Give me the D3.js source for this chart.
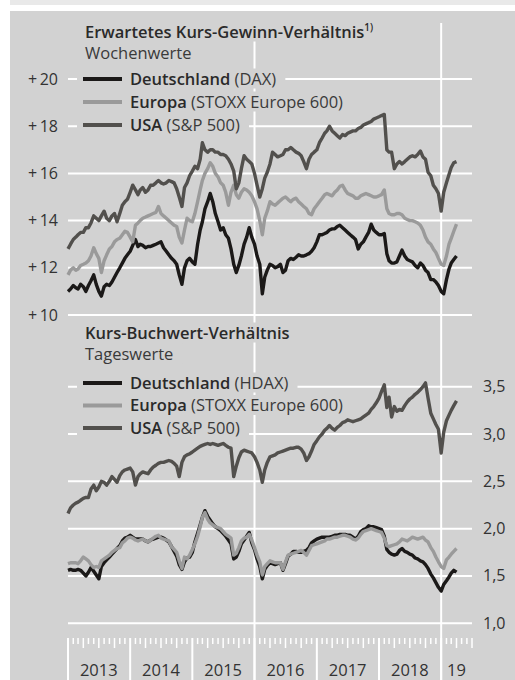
<!DOCTYPE html>
<html>
<head>
<meta charset="utf-8">
<script src="https://cdn.jsdelivr.net/npm/d3@7"></script>
<style>
  body { margin: 0; background: #ffffff; }
  svg { display: block; font-family: "Open Sans", "Noto Sans", sans-serif; }
</style>
</head>
<body>
<script>
"use strict"

/* Data: half-monthly values (1st and 16th of each month), Jan 2013 - Apr 2019 */
const startYear = 2013;
const nPoints = 151;

/* Erwartetes KGV, Wochenwerte */
const kgvDax = [11.0, 11.1, 11.25, 11.15, 11.1, 11.3, 11.2, 11.0, 11.25, 11.45, 11.7, 11.3, 11.0, 10.8, 11.2, 11.3, 11.25, 11.4, 11.6, 11.8,
  12.0, 12.2, 12.4, 12.55, 12.7, 12.95, 13.2, 12.9, 13.0, 12.95, 12.85, 12.9, 12.9, 12.95, 13.0, 13.05, 13.1, 12.85, 12.7, 12.55,
  12.4, 12.3, 12.15, 11.7, 11.3, 12.0, 12.3, 12.4, 12.25, 12.15, 13.0, 13.6, 13.95, 14.5, 14.8, 15.15, 14.8, 14.3, 13.95, 13.6,
  13.7, 13.4, 13.25, 12.8, 12.15, 11.8, 12.1, 12.5, 13.0, 13.3, 13.7, 13.3, 13.0, 12.5, 12.15, 10.9, 11.6, 11.9, 12.15, 12.1,
  12.0, 12.05, 12.15, 11.8, 11.9, 12.3, 12.4, 12.35, 12.45, 12.55, 12.5, 12.5, 12.55, 12.6, 12.7, 12.85, 13.1, 13.4, 13.4, 13.45,
  13.5, 13.6, 13.65, 13.65, 13.75, 13.8, 13.7, 13.6, 13.5, 13.4, 13.3, 13.2, 12.8, 13.0, 13.1, 13.3, 13.5, 13.85, 13.6, 13.5,
  13.4, 13.4, 13.45, 12.6, 12.3, 12.2, 12.2, 12.25, 12.5, 12.75, 12.5, 12.35, 12.3, 12.25, 12.1, 12.0, 12.2, 12.1, 11.9, 11.8,
  11.5, 11.5, 11.4, 11.25, 11.0, 10.9, 11.5, 11.95, 12.2, 12.35, 12.5];
const kgvEuropa = [11.7, 11.9, 12.0, 11.9, 11.95, 12.1, 12.15, 12.2, 12.3, 12.5, 12.85, 12.6, 12.4, 11.8, 12.3, 12.55, 12.8, 12.9, 13.1, 13.2,
  13.25, 13.4, 13.55, 13.5, 13.3, 13.1, 13.8, 13.9, 14.0, 14.1, 14.15, 14.2, 14.25, 14.3, 14.35, 14.6, 14.3, 14.2, 14.1, 14.0,
  13.9, 13.8, 13.75, 13.3, 13.05, 13.6, 14.1, 14.0, 13.95, 14.3, 14.8, 15.3, 15.7, 16.0, 16.2, 16.45, 16.3, 16.0, 15.85, 15.6,
  15.5, 15.2, 14.65, 15.2, 15.5, 15.1, 14.95, 15.2, 15.35, 15.3, 15.2, 15.05, 14.8, 14.5, 14.0, 13.4, 14.1, 14.4, 14.8, 14.7,
  14.65, 14.75, 14.85, 14.95, 15.0, 14.9, 14.8, 14.9, 14.95, 14.8, 14.7, 14.6, 14.5, 14.3, 14.25, 14.5, 14.65, 14.8, 14.95, 15.1,
  15.15, 15.1, 15.05, 15.2, 15.3, 15.45, 15.5, 15.3, 15.15, 15.1, 15.05, 14.95, 14.95, 15.05, 15.1, 15.15, 15.1, 15.05, 15.0, 15.0,
  15.05, 15.1, 15.3, 14.5, 14.3, 14.25, 14.25, 14.3, 14.3, 14.25, 14.1, 14.05, 14.0, 14.0, 13.95, 13.9, 13.8, 13.6, 13.3, 13.1,
  13.0, 12.8, 12.65, 12.4, 12.15, 12.1, 12.5, 13.0, 13.25, 13.55, 13.85];
const kgvUsa = [12.8, 13.0, 13.2, 13.3, 13.4, 13.5, 13.5, 13.7, 13.7, 13.9, 14.2, 14.1, 14.0, 14.2, 14.4, 14.1, 14.0, 14.2, 14.3, 13.95,
  14.3, 14.65, 14.8, 14.9, 15.2, 15.5, 15.3, 15.1, 15.3, 15.4, 15.2, 15.3, 15.5, 15.5, 15.6, 15.7, 15.6, 15.55, 15.6, 15.7,
  15.65, 15.6, 15.35, 15.0, 14.6, 15.4, 15.6, 15.9, 16.1, 16.3, 16.2, 16.6, 17.3, 17.0, 16.9, 17.0, 17.0, 16.9, 16.9, 16.8,
  16.8, 16.75, 16.6, 16.4, 16.1, 15.35, 15.6, 16.2, 16.75, 16.6, 16.5, 16.4, 16.0, 15.5, 15.0, 15.35, 15.8, 16.05, 16.4, 16.9,
  16.8, 16.7, 16.75, 16.8, 17.0, 17.0, 17.1, 17.0, 16.9, 16.85, 16.75, 16.5, 16.2, 16.6, 16.8, 16.9, 17.0, 17.3, 17.5, 17.7,
  17.8, 18.0, 17.8, 17.7, 17.6, 17.5, 17.65, 17.6, 17.7, 17.75, 17.8, 17.8, 17.9, 17.95, 18.05, 18.1, 18.15, 18.2, 18.3, 18.35,
  18.4, 18.45, 18.5, 17.0, 16.9, 16.9, 16.2, 16.4, 16.5, 16.4, 16.5, 16.6, 16.7, 16.75, 16.7, 16.8, 16.95, 16.7, 16.6, 16.05,
  15.9, 15.5, 15.35, 15.15, 14.4, 15.2, 15.6, 15.95, 16.25, 16.45, 16.5];

/* Kurs-Buchwert-Verhaeltnis, Tageswerte */
const kbvDax = [1.56, 1.57, 1.56, 1.56, 1.57, 1.56, 1.53, 1.50, 1.54, 1.59, 1.55, 1.51, 1.47, 1.60, 1.64, 1.67, 1.70, 1.73, 1.76, 1.79,
  1.82, 1.87, 1.90, 1.91, 1.93, 1.91, 1.89, 1.89, 1.89, 1.89, 1.87, 1.86, 1.88, 1.89, 1.90, 1.91, 1.91, 1.90, 1.88, 1.86,
  1.81, 1.76, 1.71, 1.62, 1.57, 1.65, 1.69, 1.70, 1.75, 1.86, 1.95, 2.04, 2.12, 2.19, 2.13, 2.09, 2.05, 2.02, 2.00, 1.98,
  1.95, 1.92, 1.88, 1.84, 1.68, 1.70, 1.76, 1.84, 1.88, 1.92, 1.96, 1.85, 1.78, 1.68, 1.60, 1.47, 1.57, 1.61, 1.64, 1.63,
  1.62, 1.63, 1.64, 1.56, 1.63, 1.71, 1.73, 1.76, 1.76, 1.75, 1.75, 1.76, 1.77, 1.80, 1.85, 1.87, 1.89, 1.90, 1.91, 1.91,
  1.91, 1.91, 1.92, 1.93, 1.93, 1.94, 1.94, 1.94, 1.93, 1.93, 1.91, 1.89, 1.92, 1.97, 1.99, 2.00, 2.03, 2.02, 2.02, 2.01,
  2.00, 1.99, 1.92, 1.78, 1.75, 1.73, 1.72, 1.73, 1.77, 1.79, 1.76, 1.75, 1.73, 1.72, 1.69, 1.68, 1.66, 1.65, 1.62, 1.58,
  1.52, 1.48, 1.43, 1.38, 1.34, 1.41, 1.45, 1.49, 1.53, 1.56, 1.54];
const kbvEuropa = [1.63, 1.64, 1.64, 1.64, 1.63, 1.66, 1.70, 1.68, 1.66, 1.62, 1.59, 1.60, 1.59, 1.66, 1.68, 1.70, 1.72, 1.75, 1.77, 1.79,
  1.80, 1.85, 1.87, 1.90, 1.91, 1.90, 1.88, 1.87, 1.88, 1.89, 1.87, 1.86, 1.88, 1.90, 1.92, 1.93, 1.90, 1.89, 1.88, 1.87,
  1.81, 1.78, 1.75, 1.66, 1.58, 1.70, 1.68, 1.72, 1.78, 1.84, 1.92, 2.02, 2.12, 2.17, 2.10, 2.06, 2.04, 2.02, 2.01, 2.00,
  1.97, 1.94, 1.92, 1.90, 1.72, 1.74, 1.80, 1.87, 1.90, 1.91, 1.94, 1.88, 1.80, 1.72, 1.65, 1.51, 1.60, 1.63, 1.66, 1.65,
  1.64, 1.64, 1.64, 1.57, 1.65, 1.72, 1.73, 1.74, 1.75, 1.76, 1.77, 1.75, 1.72, 1.77, 1.82, 1.83, 1.84, 1.85, 1.86, 1.87,
  1.89, 1.89, 1.90, 1.91, 1.91, 1.92, 1.93, 1.93, 1.92, 1.91, 1.89, 1.88, 1.90, 1.94, 1.97, 1.98, 1.99, 2.00, 1.99, 1.98,
  1.97, 1.96, 1.90, 1.82, 1.81, 1.82, 1.83, 1.84, 1.86, 1.89, 1.88, 1.87, 1.89, 1.91, 1.90, 1.89, 1.90, 1.91, 1.88, 1.86,
  1.80, 1.76, 1.70, 1.65, 1.60, 1.58, 1.67, 1.70, 1.73, 1.76, 1.79];
const kbvUsa = [2.16, 2.22, 2.25, 2.27, 2.28, 2.30, 2.32, 2.33, 2.33, 2.42, 2.46, 2.40, 2.44, 2.50, 2.49, 2.46, 2.50, 2.55, 2.52, 2.49,
  2.56, 2.60, 2.62, 2.63, 2.64, 2.60, 2.46, 2.55, 2.58, 2.60, 2.59, 2.58, 2.62, 2.65, 2.67, 2.69, 2.70, 2.70, 2.71, 2.72,
  2.71, 2.69, 2.66, 2.55, 2.70, 2.76, 2.78, 2.79, 2.81, 2.83, 2.85, 2.87, 2.88, 2.89, 2.90, 2.89, 2.90, 2.89, 2.88, 2.89,
  2.90, 2.88, 2.86, 2.85, 2.55, 2.66, 2.75, 2.81, 2.83, 2.82, 2.81, 2.80, 2.76, 2.70, 2.62, 2.49, 2.62, 2.70, 2.76, 2.77,
  2.78, 2.80, 2.81, 2.82, 2.83, 2.84, 2.85, 2.85, 2.86, 2.86, 2.84, 2.80, 2.72, 2.76, 2.82, 2.89, 2.93, 2.97, 3.00, 3.04,
  3.06, 3.09, 3.06, 3.04, 3.07, 3.09, 3.12, 3.13, 3.15, 3.14, 3.13, 3.14, 3.15, 3.16, 3.18, 3.20, 3.22, 3.26, 3.29, 3.33,
  3.38, 3.45, 3.52, 3.28, 3.39, 3.18, 3.29, 3.24, 3.26, 3.25, 3.30, 3.34, 3.37, 3.39, 3.42, 3.44, 3.47, 3.50, 3.54, 3.38,
  3.22, 3.16, 3.10, 3.05, 2.80, 3.02, 3.14, 3.20, 3.25, 3.30, 3.35];

const kgvTicks = [10, 12, 14, 16, 18, 20];
const kbvTicks = [1.0, 1.5, 2.0, 2.5, 3.0, 3.5];
const yearLabels = ["2013", "2014", "2015", "2016", "2017", "2018", "19"];
const gridYears = [2016, 2019];

const dates = d3.range(nPoints).map(i => new Date(startYear, Math.floor(i / 2), i % 2 ? 16 : 1));

/* colours */
const panelColor = "#d2d2d2";
const colDax = "#1b1918";
const colEuropa = "#9a9a9a";
const colUsa = "#52504d";
const textColor = "#2a2a2a";

let drawing = d3.select("body")
    .append("svg")
    .attr("width", 515)
    .attr("height", 680);

/* background */
drawing.append("rect").attr("x", 10).attr("y", 0).attr("width", 505).attr("height", 5).attr("fill", "#e9e9e9");
drawing.append("rect").attr("x", 10).attr("y", 11).attr("width", 505).attr("height", 669).attr("fill", panelColor);

/* scales */
let x = d3.scaleTime()
    .domain([new Date(2013, 0, 1), new Date(2019, 6, 1)])
    .range([68, 472]);

let yTop = d3.scaleLinear().domain([10, 20]).range([315, 79]);
let yBottom = d3.scaleLinear().domain([1.0, 3.5]).range([623.3, 386.7]);

/* horizontal gridlines */
drawing.append("g").selectAll("line")
    .data(kgvTicks)
    .join("line")
    .attr("x1", 68).attr("x2", 472)
    .attr("y1", d => yTop(d)).attr("y2", d => yTop(d))
    .attr("stroke", "#fff").attr("stroke-width", 2);

drawing.append("g").selectAll("line")
    .data(kbvTicks)
    .join("line")
    .attr("x1", 68).attr("x2", 472)
    .attr("y1", d => yBottom(d)).attr("y2", d => yBottom(d))
    .attr("stroke", "#fff").attr("stroke-width", 2);

/* vertical gridlines (2016, 2019) */
drawing.append("g").selectAll("line")
    .data(gridYears)
    .join("line")
    .attr("x1", d => x(new Date(d, 0, 1))).attr("x2", d => x(new Date(d, 0, 1)))
    .attr("y1", 23).attr("y2", 680)
    .attr("stroke", "#fff").attr("stroke-width", 2);

/* y labels */
drawing.append("g").selectAll("text")
    .data(kgvTicks)
    .join("text")
    .attr("x", 58).attr("y", d => yTop(d) + 5.5)
    .attr("text-anchor", "end")
    .attr("font-size", 16)
    .attr("fill", "#333")
    .text(d => "+\u2009" + d);

drawing.append("g").selectAll("text")
    .data(kbvTicks)
    .join("text")
    .attr("x", 483).attr("y", d => yBottom(d) + 5.5)
    .attr("font-size", 16)
    .attr("fill", "#333")
    .text(d => d3.format(".1f")(d).replace(".", ","));

/* x axis: monthly ticks and year separators */
let months = d3.timeMonth.range(new Date(2013, 0, 1), new Date(2019, 6, 2));
drawing.append("g").selectAll("line")
    .data(months)
    .join("line")
    .attr("x1", d => x(d)).attr("x2", d => x(d))
    .attr("y1", 638)
    .attr("y2", d => d.getMonth() == 0 ? 680 : (d.getMonth() % 3 == 0 ? 648 : 644))
    .attr("stroke", "#fff").attr("stroke-width", d => d.getMonth() == 0 ? 2 : 1.5);

drawing.append("g").selectAll("text")
    .data(yearLabels)
    .join("text")
    .attr("x", (d, i) => i < 6 ? x(new Date(2013 + i, 6, 1)) : x(new Date(2019, 3, 1)))
    .attr("y", 676)
    .attr("text-anchor", "middle")
    .attr("font-size", 16.5)
    .attr("fill", "#333")
    .text(d => d);

/* lines */
function drawSeries(values, yScale, colour) {
    let line = d3.line()
        .x((d, i) => x(dates[i]))
        .y(d => yScale(d));
    drawing.append("path")
        .datum(values)
        .attr("d", line)
        .attr("fill", "none")
        .attr("stroke", colour)
        .attr("stroke-width", 3.4)
        .attr("stroke-linejoin", "round");
}

drawSeries(kgvDax, yTop, colDax);
drawSeries(kgvEuropa, yTop, colEuropa);
drawSeries(kgvUsa, yTop, colUsa);

drawSeries(kbvDax, yBottom, colDax);
drawSeries(kbvEuropa, yBottom, colEuropa);
drawSeries(kbvUsa, yBottom, colUsa);

/* text with a panel-coloured box behind it, so the gridlines stop there */
function maskedText(xPos, yPos, parts, size) {
    let g = drawing.append("g");
    let t = g.append("text")
        .attr("x", xPos).attr("y", yPos)
        .attr("font-size", size)
        .attr("fill", textColor);
    parts.forEach(p => {
        let s = t.append("tspan").text(p.text).attr("font-weight", p.bold ? 600 : 400);
        if (p.sup) s.attr("font-size", size * 0.6).attr("dy", -7);
        if (p.light) s.attr("fill", "#3a3a3a");
    });
    let b = t.node().getBBox();
    g.insert("rect", "text")
        .attr("x", b.x - 3).attr("y", b.y + 2)
        .attr("width", b.width + 12).attr("height", b.height - 3)
        .attr("fill", panelColor);
    return g;
}

function legendRow(yPos, colour, name, index) {
    let g = maskedText(130, yPos + 5.5, [{ text: name, bold: true }, { text: " " + index, light: true }], 16.5);
    g.insert("rect", "text")
        .attr("x", 77).attr("y", yPos - 10).attr("width", 56).attr("height", 21)
        .attr("fill", panelColor);
    g.append("line")
        .attr("x1", 83).attr("x2", 122)
        .attr("y1", yPos).attr("y2", yPos)
        .attr("stroke", colour).attr("stroke-width", 4);
}

/* top panel headings and legend */
maskedText(85, 37.5, [{ text: "Erwartetes Kurs-Gewinn-Verhältnis", bold: true }, { text: "1)", bold: true, sup: true }], 16.5);
maskedText(85, 59, [{ text: "Wochenwerte", light: true }], 16.5);
legendRow(79, colDax, "Deutschland", "(DAX)");
legendRow(102, colEuropa, "Europa", "(STOXX Europe 600)");
legendRow(125, colUsa, "USA", "(S&P 500)");

/* bottom panel headings and legend */
maskedText(85, 338.5, [{ text: "Kurs-Buchwert-Verhältnis", bold: true }], 16.5);
maskedText(85, 359.5, [{ text: "Tageswerte", light: true }], 16.5);
legendRow(383, colDax, "Deutschland", "(HDAX)");
legendRow(405.5, colEuropa, "Europa", "(STOXX Europe 600)");
legendRow(428, colUsa, "USA", "(S&P 500)");
</script>
</body>
</html>
